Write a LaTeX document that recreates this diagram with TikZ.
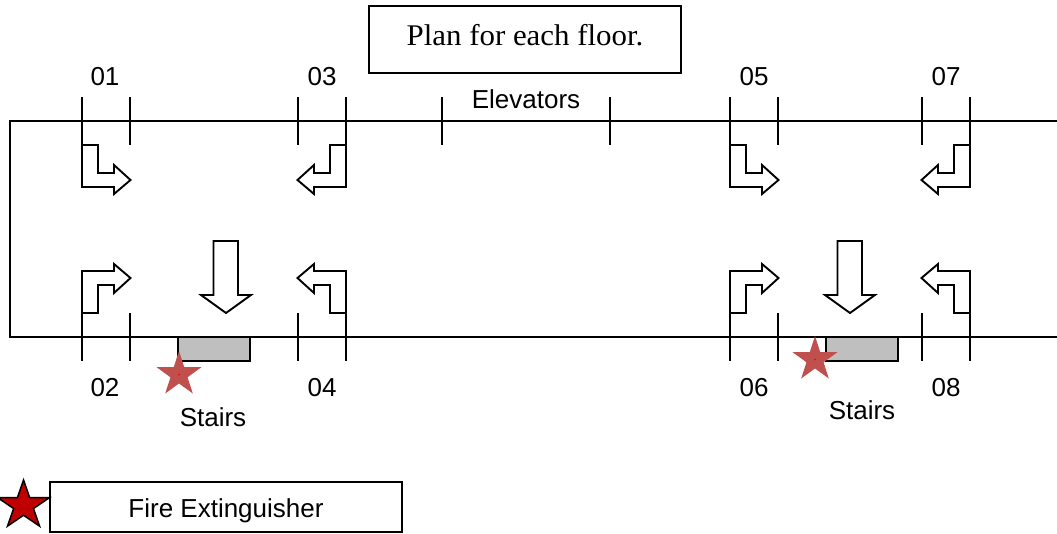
\documentclass[tikz,border=0pt]{standalone}
\usepackage{fontspec}
\setmainfont{Liberation Sans}
\newfontfamily\titlefont[FakeStretch=1.03]{Liberation Serif}
\definecolor{starsoft}{HTML}{C0504D}
\definecolor{stardark}{HTML}{C00000}
\definecolor{stairgray}{HTML}{BFBFBF}
\tikzset{
  wall/.style={line width=1.9pt,black,line join=miter},
  tick/.style={line width=1.9pt,black},
  arrowshape/.style={line width=1.9pt,black,fill=white,line join=miter},
  stairbox/.style={line width=1.9pt,draw=black,fill=stairgray},
  lbl/.style={font=\fontsize{26}{30}\selectfont,inner sep=0pt,anchor=base},
  softstar/.style={fill=starsoft,draw=none},
  darkstar/.style={fill=stardark,draw=black,line width=1.5pt,line join=miter,miter limit=10},
  framebox/.style={draw=black,line width=1.9pt,fill=white,inner sep=0pt},
}
\newcommand{\roomticks}[1]{%
  \draw[tick] (#1,97) -- (#1,145);
  \draw[tick] (#1+48,97) -- (#1+48,145);
  \draw[tick] (#1,313) -- (#1,361);
  \draw[tick] (#1+48,313) -- (#1+48,361);
}
% #1 door-edge x, #2 x direction, #3 y origin, #4 y direction
\newcommand{\bentarrow}[4]{%
  \draw[arrowshape] (#1,#3) -- (#1+#2*16,#3) -- (#1+#2*16,#3+#4*28) -- (#1+#2*32,#3+#4*28)
    -- (#1+#2*32,#3+#4*20) -- (#1+#2*48.5,#3+#4*35) -- (#1+#2*32,#3+#4*49)
    -- (#1+#2*32,#3+#4*42) -- (#1,#3+#4*42) -- cycle;
}
\newcommand{\stairarrow}[1]{%
  \draw[arrowshape] (#1-12.5,241) -- (#1+12,241) -- (#1+12,295) -- (#1+25,295)
    -- (#1,313) -- (#1-25,295) -- (#1-12.5,295) -- cycle;
}
% #1 style, #2 centre, #3 outer radius
\newcommand{\starshape}[3]{%
  \path[#1,shift={#2}] (-90:#3) -- (-54:#3*0.382) -- (-18:#3) -- (18:#3*0.382) -- (54:#3)
    -- (90:#3*0.382) -- (126:#3) -- (162:#3*0.382) -- (198:#3) -- (234:#3*0.382) -- cycle;
}
\begin{document}
\begin{tikzpicture}[x=1pt,y=-1pt]
\useasboundingbox (0,0) rectangle (1057,533);
% walls
\draw[wall] (1057,121) -- (10,121) -- (10,337) -- (1057,337);
% door ticks
\roomticks{82}
\roomticks{298}
\roomticks{730}
\roomticks{922}
\draw[tick] (442,97) -- (442,145);
\draw[tick] (610,97) -- (610,145);
% bent arrows, top row
\bentarrow{82}{1}{145}{1}
\bentarrow{346}{-1}{145}{1}
\bentarrow{730}{1}{145}{1}
\bentarrow{970}{-1}{145}{1}
% bent arrows, bottom row
\bentarrow{82}{1}{313}{-1}
\bentarrow{346}{-1}{313}{-1}
\bentarrow{730}{1}{313}{-1}
\bentarrow{970}{-1}{313}{-1}
% stairs arrows
\stairarrow{226}
\stairarrow{850}
% stairs
\draw[stairbox] (178,337) rectangle (250,361);
\draw[stairbox] (826,337) rectangle (898,361);
% stars
\starshape{softstar}{(179,374.5)}{23.5}
\starshape{softstar}{(815,359.5)}{23.5}
\fill[red] (179,374.5) circle (1pt);
\fill[red] (815,359.5) circle (1pt);
% title
\node[framebox,minimum width=312pt,minimum height=67pt,text height=20pt,text depth=9pt] (title) at (525,39.5)
  {\titlefont\fontsize{30}{34}\selectfont Plan for each floor.};
% door numbers
\node[lbl] (n01) at (105,85.3) {01};
\node[lbl] (n03) at (322,85.3) {03};
\node[lbl] (n05) at (754,85.3) {05};
\node[lbl] (n07) at (946,85.3) {07};
\node[lbl] (n02) at (105,396) {02};
\node[lbl] (n04) at (322,396) {04};
\node[lbl] (n06) at (754,396) {06};
\node[lbl] (n08) at (946,396) {08};
\node[lbl] (elev) at (526,108.8) {Elevators};
\node[lbl] (stA) at (213,426) {Stairs};
\node[lbl] (stB) at (862,419.3) {Stairs};
% legend
\node[framebox,minimum width=352pt,minimum height=50pt,text height=21pt,text depth=0pt,font=\fontsize{26}{30}\selectfont] (legend) at (226,507) {Fire Extinguisher};
\starshape{darkstar,xscale=1.07}{(22,505.5)}{25.5}
\end{tikzpicture}
\end{document}
